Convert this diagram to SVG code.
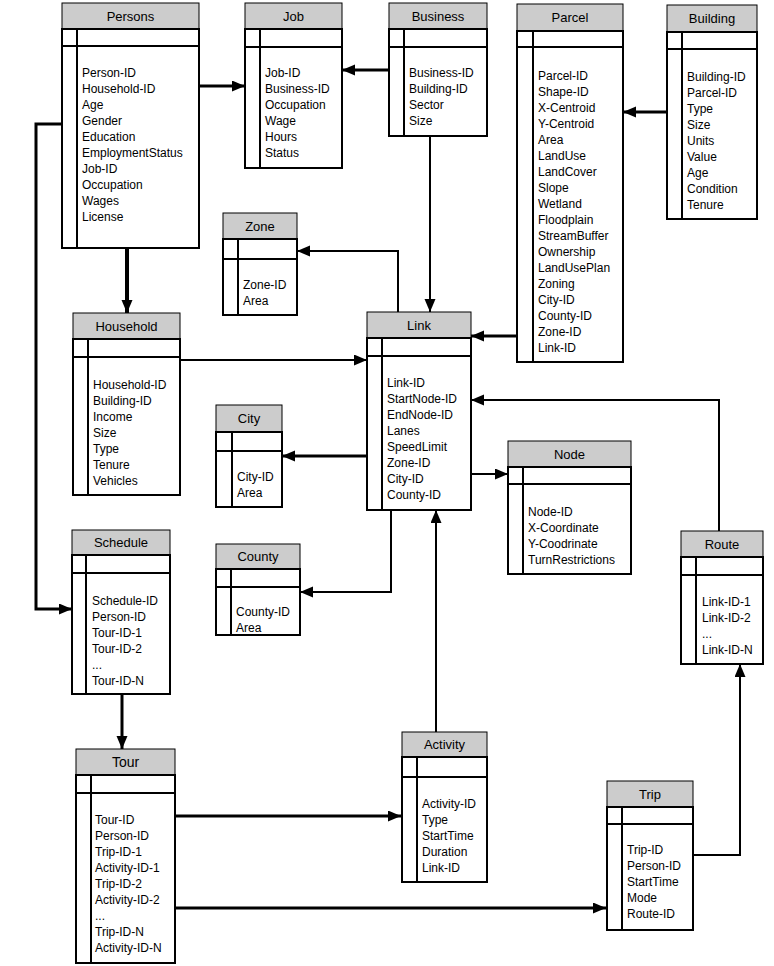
<svg xmlns="http://www.w3.org/2000/svg" width="774" height="966" viewBox="0 0 774 966">
  <style>
    text { font-family: "Liberation Sans", Arial, sans-serif; font-size: 12px; fill: #000; }
    .title { text-anchor: middle; font-size: 13px; font-weight: normal; }
    .hdr { fill: #cccccc; stroke: #000; stroke-width: 1; }
    .body { fill: #fff; stroke: #000; stroke-width: 2; }
    .sep { stroke: #000; stroke-width: 2; fill: none; }
    .conn { fill: none; stroke: #000; stroke-linejoin: miter; }
    .w2 { stroke-width: 2; }
    .w3 { stroke-width: 3; }
    .w4 { stroke-width: 4; }
  </style>
  <defs>
    <marker id="arrow" markerUnits="userSpaceOnUse" markerWidth="14" markerHeight="12" refX="13" refY="5.5" orient="auto">
      <path d="M0,0 L13,5.5 L0,11 z" fill="#000"/>
    </marker>
  </defs>
  <rect width="774" height="966" fill="#fff"/>

  <!-- connectors -->
  <g id="connectors">
    <path class="conn w3" d="M199,86 H245" marker-end="url(#arrow)"/>
    <path class="conn w3" d="M389,70 H342" marker-end="url(#arrow)"/>
    <path class="conn w2" d="M430,136 V312" marker-end="url(#arrow)"/>
    <path class="conn w3" d="M667,112 H623" marker-end="url(#arrow)"/>
    <path class="conn w3" d="M517,336 H471" marker-end="url(#arrow)"/>
    <path class="conn w2" d="M398,312 V251 H297" marker-end="url(#arrow)"/>
    <path class="conn w4" d="M127,248 V313" marker-end="url(#arrow)"/>
    <path class="conn w2" d="M180,360 H367" marker-end="url(#arrow)"/>
    <path class="conn w3" d="M367,456 H282" marker-end="url(#arrow)"/>
    <path class="conn w2" d="M471,474 H508" marker-end="url(#arrow)"/>
    <path class="conn w2" d="M391,510 V592 H300" marker-end="url(#arrow)"/>
    <path class="conn w2" d="M719,531 V400 H471" marker-end="url(#arrow)"/>
    <path class="conn w3" d="M62,124 H36 V609 H72" marker-end="url(#arrow)"/>
    <path class="conn w3" d="M122,694 V749" marker-end="url(#arrow)"/>
    <path class="conn w3" d="M175,816 H401" marker-end="url(#arrow)"/>
    <path class="conn w3" d="M175,908 H606" marker-end="url(#arrow)"/>
    <path class="conn w2" d="M436,732 V510" marker-end="url(#arrow)"/>
    <path class="conn w2" d="M693,855 H740 V664" marker-end="url(#arrow)"/>
  </g>

  <!-- Persons -->
  <g id="persons">
    <rect class="hdr" x="62" y="3" width="137" height="26"/>
    <text class="title" x="130.5" y="20.5">Persons</text>
    <rect class="body" x="62" y="29" width="137" height="219"/>
    <path class="sep" d="M62,46 H199 M77,29 V248"/>
    <text x="82" y="77">Person-ID</text>
    <text x="82" y="93">Household-ID</text>
    <text x="82" y="109">Age</text>
    <text x="82" y="125">Gender</text>
    <text x="82" y="141">Education</text>
    <text x="82" y="157">EmploymentStatus</text>
    <text x="82" y="173">Job-ID</text>
    <text x="82" y="189">Occupation</text>
    <text x="82" y="205">Wages</text>
    <text x="82" y="221">License</text>
  </g>

  <!-- Job -->
  <g id="job">
    <rect class="hdr" x="245" y="3" width="97" height="26"/>
    <text class="title" x="293.5" y="20.5">Job</text>
    <rect class="body" x="245" y="29" width="97" height="139"/>
    <path class="sep" d="M245,47 H342 M260,29 V168"/>
    <text x="265" y="77">Job-ID</text>
    <text x="265" y="93">Business-ID</text>
    <text x="265" y="109">Occupation</text>
    <text x="265" y="125">Wage</text>
    <text x="265" y="141">Hours</text>
    <text x="265" y="157">Status</text>
  </g>

  <!-- Business -->
  <g id="business">
    <rect class="hdr" x="389" y="3" width="98" height="26"/>
    <text class="title" x="438" y="20.5">Business</text>
    <rect class="body" x="389" y="29" width="98" height="107"/>
    <path class="sep" d="M389,47 H487 M404,29 V136"/>
    <text x="409" y="77">Business-ID</text>
    <text x="409" y="93">Building-ID</text>
    <text x="409" y="109">Sector</text>
    <text x="409" y="125">Size</text>
  </g>

  <!-- Parcel -->
  <g id="parcel">
    <rect class="hdr" x="517" y="4" width="106" height="27"/>
    <text class="title" x="570" y="21.5">Parcel</text>
    <rect class="body" x="517" y="31" width="106" height="331"/>
    <path class="sep" d="M517,47 H623 M533,31 V362"/>
    <text x="538" y="80">Parcel-ID</text>
    <text x="538" y="96">Shape-ID</text>
    <text x="538" y="112">X-Centroid</text>
    <text x="538" y="128">Y-Centroid</text>
    <text x="538" y="144">Area</text>
    <text x="538" y="160">LandUse</text>
    <text x="538" y="176">LandCover</text>
    <text x="538" y="192">Slope</text>
    <text x="538" y="208">Wetland</text>
    <text x="538" y="224">Floodplain</text>
    <text x="538" y="240">StreamBuffer</text>
    <text x="538" y="256">Ownership</text>
    <text x="538" y="272">LandUsePlan</text>
    <text x="538" y="288">Zoning</text>
    <text x="538" y="304">City-ID</text>
    <text x="538" y="320">County-ID</text>
    <text x="538" y="336">Zone-ID</text>
    <text x="538" y="352">Link-ID</text>
  </g>

  <!-- Building -->
  <g id="building">
    <rect class="hdr" x="667" y="5" width="90" height="27"/>
    <text class="title" x="712" y="22.5">Building</text>
    <rect class="body" x="667" y="32" width="90" height="187"/>
    <path class="sep" d="M667,49 H757 M682,32 V219"/>
    <text x="687" y="81">Building-ID</text>
    <text x="687" y="97">Parcel-ID</text>
    <text x="687" y="113">Type</text>
    <text x="687" y="129">Size</text>
    <text x="687" y="145">Units</text>
    <text x="687" y="161">Value</text>
    <text x="687" y="177">Age</text>
    <text x="687" y="193">Condition</text>
    <text x="687" y="209">Tenure</text>
  </g>

  <!-- Zone -->
  <g id="zone">
    <rect class="hdr" x="223" y="213" width="74" height="26"/>
    <text class="title" x="260" y="230.5">Zone</text>
    <rect class="body" x="223" y="239" width="74" height="76"/>
    <path class="sep" d="M223,259 H297 M238,239 V315"/>
    <text x="243" y="289">Zone-ID</text>
    <text x="243" y="305">Area</text>
  </g>

  <!-- Link -->
  <g id="link">
    <rect class="hdr" x="367" y="312" width="104" height="26"/>
    <text class="title" x="419" y="329.5">Link</text>
    <rect class="body" x="367" y="338" width="104" height="172"/>
    <path class="sep" d="M367,356 H471 M382,338 V510"/>
    <text x="387" y="387">Link-ID</text>
    <text x="387" y="403">StartNode-ID</text>
    <text x="387" y="419">EndNode-ID</text>
    <text x="387" y="435">Lanes</text>
    <text x="387" y="451">SpeedLimit</text>
    <text x="387" y="467">Zone-ID</text>
    <text x="387" y="483">City-ID</text>
    <text x="387" y="499">County-ID</text>
  </g>

  <!-- Household -->
  <g id="household">
    <rect class="hdr" x="73" y="313" width="107" height="26"/>
    <text class="title" x="126.5" y="330.5">Household</text>
    <rect class="body" x="73" y="339" width="107" height="156"/>
    <path class="sep" d="M73,357 H180 M88,339 V495"/>
    <text x="93" y="389">Household-ID</text>
    <text x="93" y="405">Building-ID</text>
    <text x="93" y="421">Income</text>
    <text x="93" y="437">Size</text>
    <text x="93" y="453">Type</text>
    <text x="93" y="469">Tenure</text>
    <text x="93" y="485">Vehicles</text>
  </g>

  <!-- City -->
  <g id="city">
    <rect class="hdr" x="216" y="405" width="66" height="27"/>
    <text class="title" x="249" y="422.5">City</text>
    <rect class="body" x="216" y="432" width="66" height="75"/>
    <path class="sep" d="M216,451 H282 M232,432 V507"/>
    <text x="237" y="481">City-ID</text>
    <text x="237" y="497">Area</text>
  </g>

  <!-- Node -->
  <g id="node">
    <rect class="hdr" x="508" y="441" width="123" height="26"/>
    <text class="title" x="569.5" y="458.5">Node</text>
    <rect class="body" x="508" y="467" width="123" height="107"/>
    <path class="sep" d="M508,484 H631 M523,467 V574"/>
    <text x="528" y="516">Node-ID</text>
    <text x="528" y="532">X-Coordinate</text>
    <text x="528" y="548">Y-Coodrinate</text>
    <text x="528" y="564">TurnRestrictions</text>
  </g>

  <!-- County -->
  <g id="county">
    <rect class="hdr" x="216" y="544" width="84" height="25"/>
    <text class="title" x="258" y="561">County</text>
    <rect class="body" x="216" y="569" width="84" height="66"/>
    <path class="sep" d="M216,587 H300 M231,569 V635"/>
    <text x="236" y="616">County-ID</text>
    <text x="236" y="632">Area</text>
  </g>

  <!-- Schedule -->
  <g id="schedule">
    <rect class="hdr" x="72" y="530" width="98" height="25"/>
    <text class="title" x="121" y="547">Schedule</text>
    <rect class="body" x="72" y="555" width="98" height="139"/>
    <path class="sep" d="M72,573 H170 M86,555 V694"/>
    <text x="92" y="605">Schedule-ID</text>
    <text x="92" y="621">Person-ID</text>
    <text x="92" y="637">Tour-ID-1</text>
    <text x="92" y="653">Tour-ID-2</text>
    <text x="92" y="669">...</text>
    <text x="92" y="685">Tour-ID-N</text>
  </g>

  <!-- Route -->
  <g id="route">
    <rect class="hdr" x="681" y="531" width="82" height="26"/>
    <text class="title" x="722" y="548.5">Route</text>
    <rect class="body" x="681" y="557" width="82" height="107"/>
    <path class="sep" d="M681,575 H763 M696,557 V664"/>
    <text x="702" y="606">Link-ID-1</text>
    <text x="702" y="622">Link-ID-2</text>
    <text x="702" y="638">...</text>
    <text x="702" y="654">Link-ID-N</text>
  </g>

  <!-- Tour -->
  <g id="tour">
    <rect class="hdr" x="76" y="749" width="99" height="26"/>
    <text class="title" x="125.5" y="767" style="font-size:14px">Tour</text>
    <rect class="body" x="76" y="775" width="99" height="188"/>
    <path class="sep" d="M76,793 H175 M91,775 V963"/>
    <text x="95" y="824">Tour-ID</text>
    <text x="95" y="840">Person-ID</text>
    <text x="95" y="856">Trip-ID-1</text>
    <text x="95" y="872">Activity-ID-1</text>
    <text x="95" y="888">Trip-ID-2</text>
    <text x="95" y="904">Activity-ID-2</text>
    <text x="95" y="920">...</text>
    <text x="95" y="936">Trip-ID-N</text>
    <text x="95" y="952">Activity-ID-N</text>
  </g>

  <!-- Activity -->
  <g id="activity">
    <rect class="hdr" x="402" y="732" width="85" height="25"/>
    <text class="title" x="444.5" y="749">Activity</text>
    <rect class="body" x="402" y="757" width="85" height="125"/>
    <path class="sep" d="M402,777 H487 M417,757 V882"/>
    <text x="422" y="808">Activity-ID</text>
    <text x="422" y="824">Type</text>
    <text x="422" y="840">StartTime</text>
    <text x="422" y="856">Duration</text>
    <text x="422" y="872">Link-ID</text>
  </g>

  <!-- Trip -->
  <g id="trip">
    <rect class="hdr" x="607" y="781" width="86" height="26"/>
    <text class="title" x="650" y="798.5">Trip</text>
    <rect class="body" x="607" y="807" width="86" height="123"/>
    <path class="sep" d="M607,824 H693 M622,807 V930"/>
    <text x="627" y="854">Trip-ID</text>
    <text x="627" y="870">Person-ID</text>
    <text x="627" y="886">StartTime</text>
    <text x="627" y="902">Mode</text>
    <text x="627" y="918">Route-ID</text>
  </g>
</svg>
